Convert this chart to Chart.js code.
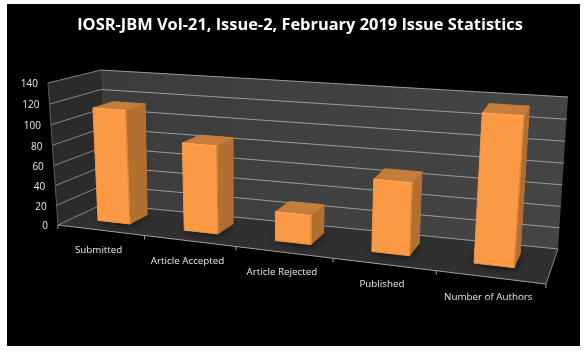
<!DOCTYPE html>
<html>
<head>
<meta charset="utf-8">
<script src="https://cdn.jsdelivr.net/npm/chart.js@4"></script>
<style>
  html, body { margin: 0; background: #fff; }
  #wrap { width: 588px; height: 352px; }
</style>
</head>
<body>
<div id="wrap"><canvas id="issueChart" width="588" height="352"></canvas></div>
<script>
'use strict';

const CATEGORIES = ['Submitted', 'Article Accepted', 'Article Rejected', 'Published', 'Number of Authors'];
const VALUES = [113, 86, 28, 68, 135];
const Y_MAX = 140;
const Y_STEP = 20;
const TITLE = 'IOSR-JBM Vol-21, Issue-2, February 2019 Issue Statistics';

// corners of the 3D box on the page: front plane and back plane
const FRONT = { lb: [58, 225], lt: [48, 83], rb: [546, 284], rt: [559, 121] };
const BACK = { lb: [103, 204], lt: [101, 70], rb: [558, 249], rt: [568, 97] };
const BAR_DEPTH = [0.35, 0.76];
const BAR_SHIFT = -0.004;

// unit square -> quad homography
function quadMap(q) {
  const [x0, y0] = q.lb, [x1, y1] = q.rb, [x2, y2] = q.rt, [x3, y3] = q.lt;
  const dx1 = x1 - x2, dx2 = x3 - x2, sx = x0 - x1 + x2 - x3;
  const dy1 = y1 - y2, dy2 = y3 - y2, sy = y0 - y1 + y2 - y3;
  const det = dx1 * dy2 - dx2 * dy1;
  const g = (sx * dy2 - dx2 * sy) / det;
  const h = (dx1 * sy - sx * dy1) / det;
  const a = x1 - x0 + g * x1, b = x3 - x0 + h * x3;
  const d = y1 - y0 + g * y1, e = y3 - y0 + h * y3;
  return (u, v) => {
    const z = g * u + h * v + 1;
    return [(a * u + b * v + x0) / z, (d * u + e * v + y0) / z];
  };
}
const frontMap = quadMap(FRONT);
const backMap = quadMap(BACK);

function project(u, v, w) {
  const f = frontMap(u, v), b = backMap(u, v);
  return [f[0] + (b[0] - f[0]) * w, f[1] + (b[1] - f[1]) * w];
}

function poly(ctx, pts, fill, stroke) {
  ctx.beginPath();
  pts.forEach((p, i) => (i ? ctx.lineTo(p[0], p[1]) : ctx.moveTo(p[0], p[1])));
  ctx.closePath();
  if (fill) { ctx.fillStyle = fill; ctx.fill(); }
  if (stroke) { ctx.strokeStyle = stroke; ctx.lineWidth = 1; ctx.lineJoin = 'round'; ctx.stroke(); }
}

function line(ctx, a, b, color, width) {
  ctx.beginPath();
  ctx.moveTo(a[0], a[1]);
  ctx.lineTo(b[0], b[1]);
  ctx.strokeStyle = color;
  ctx.lineWidth = width || 1;
  ctx.stroke();
}

const perspective3d = {
  id: 'perspective3d',
  beforeDraw(chart) {
    const ctx = chart.ctx;
    ctx.save();
    ctx.fillStyle = '#000';
    ctx.fillRect(7, 4, 573, 342);
    ctx.restore();
  },
  beforeDatasetsDraw(chart) {
    const ctx = chart.ctx;
    const area = chart.chartArea;
    const xs = chart.scales.x, ys = chart.scales.y;
    const toU = px => (px - area.left) / (area.right - area.left);
    const toV = py => (area.bottom - py) / (area.bottom - area.top);
    const slot = (area.right - area.left) / CATEGORIES.length;

    ctx.save();

    // walls and floor
    const backGrad = ctx.createLinearGradient(103, 0, 568, 0);
    backGrad.addColorStop(0, '#3c3c3c');
    backGrad.addColorStop(1, '#454545');
    poly(ctx, [project(0, 0, 1), project(1, 0, 1), project(1, 1, 1), project(0, 1, 1)], backGrad);
    poly(ctx, [project(0, 0, 0), project(0, 0, 1), project(0, 1, 1), project(0, 1, 0)], '#2b2b2b');
    poly(ctx, [project(0, 0, 0), project(1, 0, 0), project(1, 0, 1), project(0, 0, 1)], '#303030');

    // grid lines follow the y scale ticks
    ys.ticks.forEach(t => {
      const v = toV(ys.getPixelForValue(t.value));
      line(ctx, project(0, v, 0), project(0, v, 1), '#858585');
      line(ctx, project(0, v, 1), project(1, v, 1), '#9a9a9a');
    });
    line(ctx, project(1, 0, 0), project(1, 0, 1), '#858585');
    line(ctx, project(0, 0, 0), project(0, 1, 0), '#5c5c5c');
    line(ctx, project(0, 0, 0), project(1, 0, 0), '#a0a0a0');

    // category tick marks on the front edge
    for (let i = 0; i <= CATEGORIES.length; i++) {
      const p = project(toU(area.left + slot * i), 0, 0);
      line(ctx, p, [p[0], p[1] + 4], '#a0a0a0');
    }

    // axis text
    ctx.fillStyle = '#e8e8e8';
    ctx.font = '10px "Open Sans"';
    ctx.textAlign = 'right';
    ctx.textBaseline = 'middle';
    ys.ticks.forEach(t => {
      const p = project(0, toV(ys.getPixelForValue(t.value)), 0);
      ctx.fillText(t.label, p[0] - 10, p[1] + 1.5);
    });
    ctx.textAlign = 'center';
    ctx.font = '9.8px "Open Sans"';
    xs.ticks.forEach((t, i) => {
      const p = project(toU(xs.getPixelForTick(i)), 0, 0);
      ctx.fillText(t.label, p[0] - 2, p[1] + 20);
    });

    // the bars, read from the bar elements Chart.js laid out
    const meta = chart.getDatasetMeta(0);
    const [w0, w1] = BAR_DEPTH;
    meta.data.forEach(bar => {
      const u0 = toU(bar.x - bar.width / 2) + BAR_SHIFT, u1 = toU(bar.x + bar.width / 2) + BAR_SHIFT;
      const vb = toV(bar.base), vt = toV(bar.y);

      // soft shadow on the floor
      ctx.save();
      ctx.shadowColor = 'rgba(0,0,0,0.9)';
      ctx.shadowBlur = 10;
      poly(ctx, [project(u0, vb, w0), project(u1, vb, w0), project(u1, vb, w1), project(u0, vb, w1)], '#1a1a1a');
      ctx.restore();

      poly(ctx, [project(u1, vb, w0), project(u1, vb, w1), project(u1, vt, w1), project(u1, vt, w0)], '#b1702f', '#b1702f');
      poly(ctx, [project(u0, vt, w0), project(u1, vt, w0), project(u1, vt, w1), project(u0, vt, w1)], '#c47d3a', '#c47d3a');
      poly(ctx, [project(u0, vb, w0), project(u1, vb, w0), project(u1, vt, w0), project(u0, vt, w0)], '#fb9944', '#f59441');
      line(ctx, project(u0, vt, w0), project(u1, vt, w0), '#ffa95c');
      line(ctx, project(u1, vb, w0), project(u1, vt, w0), '#d9853a');
    });

    ctx.restore();
    return false; // bars already drawn in perspective
  }
};

new Chart(document.getElementById('issueChart').getContext('2d'), {
  type: 'bar',
  data: {
    labels: CATEGORIES,
    datasets: [{
      label: 'Issue Statistics',
      data: VALUES,
      backgroundColor: '#fb9944',
      categoryPercentage: 0.8,
      barPercentage: 0.47,
    }],
  },
  options: {
    responsive: false,
    animation: false,
    layout: { padding: { left: 12, top: 13 } },
    plugins: {
      legend: { display: false },
      tooltip: { enabled: false },
      title: {
        display: true,
        text: TITLE,
        color: '#fff',
        font: { family: '"Open Sans"', size: 16.4, weight: 'bold' },
        padding: { top: 2, bottom: 10 },
      },
    },
    scales: {
      x: { grid: { display: false }, border: { display: false }, ticks: { display: false } },
      y: {
        min: 0,
        max: Y_MAX,
        grid: { display: false },
        border: { display: false },
        ticks: { display: false, stepSize: Y_STEP },
      },
    },
  },
  plugins: [perspective3d],
});
</script>
</body>
</html>
